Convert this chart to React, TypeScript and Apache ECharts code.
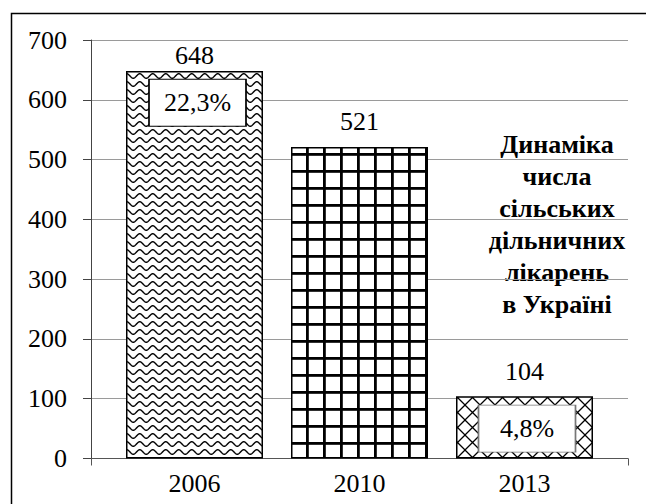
import React, { useEffect, useRef } from "react";
import * as echarts from "echarts";

const categories = ["2006", "2010", "2013"];
const values = [648, 521, 104];
const shareLabels = ["22,3%", "", "4,8%"];
const yMin = 0;
const yMax = 700;
const yStep = 100;
const titleLines = ["Динаміка", "числа", "сільських", "дільничних", "лікарень", "в Україні"];

const FONT = "Liberation Serif, Times New Roman, serif";

function makePattern(kind: string) {
  const c = document.createElement("canvas");
  let w = 13, h = 8;
  if (kind === "grid") { w = 17; h = 17; }
  if (kind === "diamond") { w = 15; h = 15; }
  c.width = w; c.height = h;
  const ctx = c.getContext("2d")!;
  ctx.fillStyle = "#fff";
  ctx.fillRect(0, 0, w, h);
  ctx.strokeStyle = "#000";
  ctx.fillStyle = "#000";
  if (kind === "wave") {
    ctx.lineWidth = 1.4;
    ctx.beginPath();
    for (let x = -1; x <= w + 1; x += 0.5) {
      const y = 4 + 2.3 * Math.sin((2 * Math.PI * x) / w);
      if (x === -1) ctx.moveTo(x, y); else ctx.lineTo(x, y);
    }
    ctx.stroke();
  } else if (kind === "grid") {
    ctx.fillRect(0, 0, 2.8, h);
    ctx.fillRect(0, 0, w, 2.8);
  } else {
    ctx.lineWidth = 1.3;
    ctx.beginPath();
    ctx.moveTo(-1, -1); ctx.lineTo(w + 1, h + 1);
    ctx.moveTo(w + 1, -1); ctx.lineTo(-1, h + 1);
    ctx.stroke();
  }
  return { image: c.toDataURL(), repeat: "repeat", imageWidth: w, imageHeight: h } as any;
}

export default function App() {
  const ref = useRef<HTMLDivElement>(null);
  useEffect(() => {
    if (!ref.current) return;
    const chart = echarts.init(ref.current, undefined, { renderer: "svg" });
    const patterns = [makePattern("wave"), makePattern("grid"), makePattern("diamond")];
    const labelDist = [3, 13, 12];
    const boxAt = [595, 0, 50];
    const boxShift = [3, 0, 2.5];
    const boxBorder = ["#000", "#000", "#777"];
    const gridTop = 40;
    const gridH = 418.5;
    const option: any = {
      animation: false,
      backgroundColor: "#fff",
      textStyle: { fontFamily: FONT },
      grid: [
        { left: 112, width: 495, top: gridTop, height: gridH },
        { left: 91, width: 537, top: gridTop, height: gridH },
      ],
      xAxis: [
        {
          type: "category",
          gridIndex: 0,
          data: categories,
          axisLine: { show: false },
          axisTick: { show: false },
          axisLabel: { fontSize: 26, color: "#000", fontFamily: FONT, margin: 12 },
        },
        {
          type: "value",
          gridIndex: 1,
          min: 0,
          max: 1,
          interval: 1,
          axisLine: { show: true, lineStyle: { color: "#555", width: 1 } },
          axisTick: { show: true, length: 7, lineStyle: { color: "#555" } },
          axisLabel: { show: false },
          splitLine: { show: false },
        },
      ],
      yAxis: [
        { type: "value", gridIndex: 0, min: yMin, max: yMax, interval: yStep, show: false },
        {
          type: "value",
          gridIndex: 1,
          min: yMin,
          max: yMax,
          interval: yStep,
          axisLine: { show: true, lineStyle: { color: "#444", width: 1 } },
          axisTick: { show: true, length: 8, lineStyle: { color: "#444" } },
          axisLabel: { fontSize: 26, color: "#000", fontFamily: FONT, margin: 24 },
          splitLine: { show: true, lineStyle: { color: "#9a9a9a", width: 1 } },
        },
      ],
      series: [
        {
          type: "bar",
          xAxisIndex: 0,
          yAxisIndex: 0,
          barWidth: 137,
          data: values.map((v, i) => ({
            value: v,
            itemStyle: { color: patterns[i], borderColor: "#000", borderWidth: 1.5 },
            label: { distance: labelDist[i] },
          })),
          label: {
            show: true,
            position: "top",
            fontSize: 26,
            color: "#000",
            fontFamily: FONT,
          },
          markPoint: {
            symbol: "rect",
            symbolSize: [97, 47],
            data: shareLabels
              .map((t, i) => ({ t, i }))
              .filter((d) => d.t)
              .map((d) => ({
                coord: [d.i, boxAt[d.i]],
                value: d.t,
                symbolOffset: [boxShift[d.i], 0],
                itemStyle: { color: "#fff", borderColor: boxBorder[d.i], borderWidth: 1.2 },
              })),
            label: {
              show: true,
              position: "inside",
              formatter: (p: any) => p.value,
              fontSize: 26,
              color: "#000",
              fontFamily: FONT,
            },
          },
        },
      ],
      graphic: [
        {
          type: "rect",
          shape: { x: 11.5, y: 13.5, width: 700, height: 600 },
          style: { fill: "none", stroke: "#000", lineWidth: 1.5 },
          silent: true,
        },
        {
          type: "text",
          x: 557,
          y: 128,
          style: {
            text: titleLines.join("\n"),
            fontFamily: FONT,
            fontWeight: "bold",
            fontSize: 26,
            fill: "#000",
            align: "center",
            verticalAlign: "top",
            lineHeight: 32,
          },
        },
      ],
    };
    chart.setOption(option);
    return () => chart.dispose();
  }, []);
  return (
    <div
      ref={ref}
      style={{ position: "fixed", left: 0, top: 0, width: 646, height: 504 }}
    />
  );
}
